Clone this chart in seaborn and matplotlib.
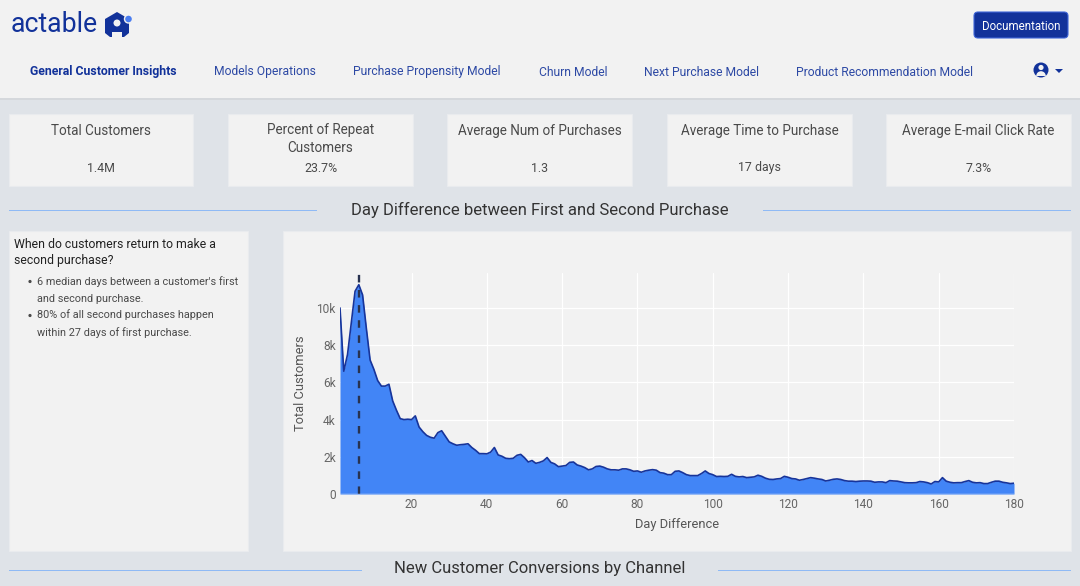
import matplotlib
matplotlib.use('Agg')
import matplotlib.pyplot as plt
from matplotlib.patches import FancyBboxPatch, Polygon, Rectangle, Circle, Wedge
import pandas as pd
import seaborn as sns

# customers per day difference, days 1 to 180
total_customers = [
    10000, 6600, 7500, 9200, 10900, 11250, 10700, 8900, 7200, 6700,
    6100, 5800, 5800, 5900, 5000, 4500, 4050, 4000, 4020, 4000,
    4200, 3600, 3350, 3150, 3050, 3000, 3300, 3400, 3100, 2800,
    2700, 2620, 2650, 2670, 2700, 2500, 2350, 2170, 2170, 2160,
    2250, 2500, 2100, 2030, 1920, 1900, 1920, 2080, 2130, 1950,
    1720, 1800, 1650, 1700, 1780, 1960, 1700, 1620, 1470, 1500,
    1530, 1700, 1720, 1560, 1500, 1420, 1300, 1350, 1480, 1500,
    1440, 1350, 1300, 1300, 1280, 1350, 1350, 1300, 1220, 1240,
    1170, 1240, 1280, 1310, 1280, 1150, 1120, 1040, 1040, 1220,
    1240, 1150, 1040, 990, 990, 990, 1100, 1240, 1100, 1040,
    940, 950, 940, 950, 1060, 950, 920, 940, 880, 900,
    920, 1010, 950, 850, 790, 780, 810, 830, 950, 900,
    830, 810, 740, 780, 830, 880, 850, 810, 780, 700,
    740, 790, 810, 780, 720, 690, 690, 670, 690, 700,
    700, 690, 630, 650, 650, 610, 720, 700, 690, 650,
    610, 600, 600, 610, 670, 650, 610, 540, 670, 650,
    880, 690, 630, 600, 610, 610, 670, 720, 630, 600,
    610, 560, 560, 630, 690, 690, 630, 600, 560, 580,
]
days = list(range(1, 181))
median_day = 6

x_ticks = [20, 40, 60, 80, 100, 120, 140, 160, 180]
y_ticks = [0, 2000, 4000, 6000, 8000, 10000]
y_tick_labels = ['0', '2k', '4k', '6k', '8k', '10k']

nav_items = ['General Customer Insights', 'Models Operations', 'Purchase Propensity Model',
             'Churn Model', 'Next Purchase Model', 'Product Recommendation Model']
kpi_titles = ['Total Customers', 'Percent of Repeat\nCustomers', 'Average Num of Purchases',
              'Average Time to Purchase', 'Average E-mail Click Rate']
kpi_values = ['1.4M', '23.7%', '1.3', '17 days', '7.3%']

NAVY = '#12329a'
BG = '#dfe3e8'
PANEL = '#f2f2f2'
RULE = '#8fbaf5'
TEXT = '#4a4a4a'

sns.set_theme(style='white')
plt.rcParams['font.family'] = ['Roboto', 'DejaVu Sans']

fig = plt.figure(figsize=(10.8, 5.86), dpi=100, facecolor=BG)

# page layer in pixel coordinates
page = fig.add_axes([0, 0, 1, 1])
page.set_xlim(0, 1080)
page.set_ylim(586, 0)
page.axis('off')


def panel(x0, y0, x1, y1):
    page.add_patch(Rectangle((x0, y0), x1 - x0, y1 - y0, fc=PANEL, ec='#e9ebee', lw=0.8))


def rule(x0, x1, y):
    page.add_patch(Rectangle((x0, y), x1 - x0, 1, fc=RULE, ec='none'))


# header
page.add_patch(Rectangle((0, 0), 1080, 98, fc=PANEL, ec='none'))
page.add_patch(Rectangle((0, 98), 1080, 2, fc='#d5d8dc', ec='none'))
page.text(11, 24.5, 'actable', color=NAVY, fontsize=19.2, va='center', ha='left')
page.add_patch(Polygon([(117, 12), (129, 19), (129, 33), (124, 37), (122, 37), (122, 32),
                        (112, 32), (112, 37), (110, 37), (105, 33), (105, 19)],
                       fc=NAVY, ec='none'))
page.add_patch(Circle((117, 23), 3.5, fc=PANEL, ec='none'))
page.add_patch(Circle((128.5, 19), 4, fc='#4a7df0', ec=PANEL, lw=1))

page.add_patch(FancyBboxPatch((974, 12), 94, 26, boxstyle='round,pad=0,rounding_size=4', fc=NAVY, ec='#3f66d8', lw=0.8))
page.text(1021, 26, 'Documentation', color='white', fontsize=8.3, ha='center', va='center')

nav_x = [30, 214, 353, 539, 644, 796]
for i, (label, x) in enumerate(zip(nav_items, nav_x)):
    page.text(x, 72, label, color=NAVY, fontsize=8.8 if i == 0 else 8.7, va='center', ha='left',
              fontweight='bold' if i == 0 else 'normal', alpha=1 if i == 0 else 0.88)

# user icon
page.add_patch(Circle((1041, 70), 7.5, fc=NAVY, ec='none'))
page.add_patch(Circle((1041, 67.5), 2.6, fc=PANEL, ec='none'))
page.add_patch(Wedge((1041, 76), 4.8, 180, 360, fc=PANEL, ec='none'))
page.add_patch(Polygon([(1055, 69), (1063, 69), (1059, 73)], fc=NAVY, ec='none'))

# KPI cards
card_x = [(9, 193), (228, 413), (447, 632), (667, 852), (886, 1071)]
for (x0, x1), title, value in zip(card_x, kpi_titles, kpi_values):
    panel(x0, 114, x1, 186)
    cx = (x0 + x1) / 2
    page.text(cx, 139 if '\n' in title else 131, title, color=TEXT, fontsize=9.75, ha='center', va='center', linespacing=1.3)
    page.text(cx, 168, value, color=TEXT, fontsize=8.9, ha='center', va='center')

# section titles with rules
page.text(540, 209.5, 'Day Difference between First and Second Purchase', color='#333333', fontsize=12, ha='center', va='center')
rule(9, 317, 210)
rule(763, 1071, 210)
page.text(540, 569, 'New Customer Conversions by Channel', color='#333333', fontsize=12, ha='center', va='center')
rule(9, 362, 570)
rule(718, 1071, 570)

# text panel
panel(9, 231, 248, 551)
page.text(14.5, 252.5, 'When do customers return to make a\nsecond purchase?', color='#222222', fontsize=8.8,
          va='center', ha='left', linespacing=1.35)
bullets = ["6 median days between a customer's first\nand second purchase.",
           '80% of all second purchases happen\nwithin 27 days of first purchase.']
for y, line in zip([290, 324], bullets):
    page.text(37, y, line, color=TEXT, fontsize=7.8, va='center', ha='left', linespacing=1.8)
    page.add_patch(Circle((30, y - 8.5), 1.6, fc=TEXT, ec='none'))

# chart panel
panel(283, 231, 1071, 551)

df = pd.DataFrame({'day': days, 'customers': total_customers})

# 340..1014 px wide, 273..494 px tall
ax = fig.add_axes([340 / 1080, 1 - 494 / 586, 674 / 1080, 221 / 586], facecolor=PANEL)
ax.fill_between(df['day'], df['customers'], color='#4285f6', lw=0, zorder=2)
sns.lineplot(data=df, x='day', y='customers', ax=ax, color='#17349a', lw=1.2, zorder=3)
ax.plot([median_day, median_day], [0, 11880], color='#28324f', lw=1.7, dashes=(3.2, 3.2), zorder=4, clip_on=False)

ax.set_xlim(1, 180)
ax.set_ylim(0, 11880)
ax.set_xticks(x_ticks)
ax.set_yticks(y_ticks)
ax.set_yticklabels(y_tick_labels)
ax.grid(True, color='white', lw=0.85)
ax.set_axisbelow(True)
ax.tick_params(length=0, labelsize=8.6, labelcolor='#666666', pad=3)
ax.set_xlabel('Day Difference', fontsize=9.3, color='#555555', labelpad=5)
ax.set_ylabel('Total Customers', fontsize=9.3, color='#555555', labelpad=7)
sns.despine(ax=ax, left=True, bottom=True, top=True, right=True)
ax.axhline(0, color='#cfe0fb', lw=1, zorder=5)

fig.savefig('out.png', dpi=100, facecolor=fig.get_facecolor())
plt.close(fig)
